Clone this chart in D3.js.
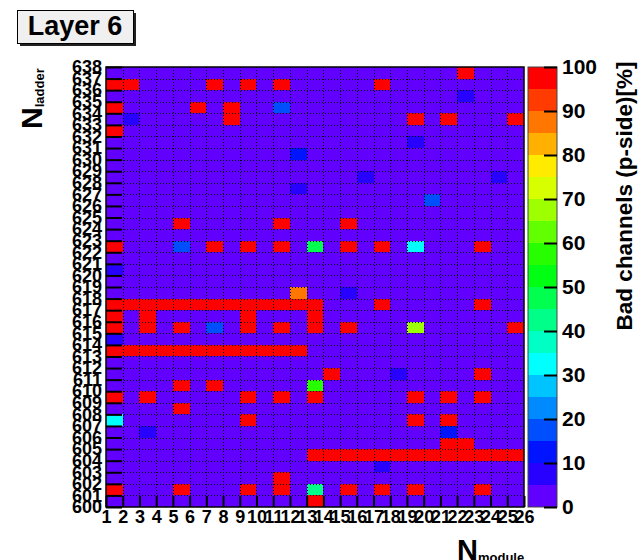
<!DOCTYPE html>
<html>
<head>
<meta charset="utf-8">
<script src="https://cdn.jsdelivr.net/npm/d3@7"></script>
<style>
body { margin: 0; background: #fff; }
svg text { font-family: "Liberation Sans", Arial, Helvetica, sans-serif; font-weight: bold; fill: #000; }
</style>
</head>
<body>
<svg id="chart" width="638" height="560"></svg>
<script>
// bin edges of the histogram (labels sit on the edges)
var moduleEdges = [1, 2, 3, 4, 5, 6, 7, 8, 9, 10, 11, 12, 13, 14, 15, 16, 17, 18, 19, 20,
                   21, 22, 23, 24, 25, 26];
var ladderEdges = [600, 601, 602, 603, 604, 605, 606, 607, 608, 609, 610, 611, 612, 613,
                   614, 615, 616, 617, 618, 619, 620, 621, 622, 623, 624, 625, 626, 627,
                   628, 629, 630, 631, 632, 633, 634, 635, 636, 637, 638];
var paletteTicks = [0, 10, 20, 30, 40, 50, 60, 70, 80, 90, 100];

// [module, ladder, bad channels %] -- every other cell is 0
var badCells = [
    [22, 637, 100],
    [1, 636, 100], [2, 636, 100], [7, 636, 100], [9, 636, 100], [11, 636, 100], [17, 636, 100],
    [22, 635, 8],
    [1, 634, 100], [6, 634, 100], [8, 634, 100], [11, 634, 17],
    [2, 633, 9], [8, 633, 100], [19, 633, 100], [21, 633, 100], [25, 633, 100],
    [1, 632, 100],
    [19, 631, 8],
    [12, 630, 12],
    [16, 628, 8], [24, 628, 8],
    [12, 627, 8],
    [20, 626, 17],
    [5, 624, 100], [11, 624, 100], [15, 624, 100],
    [1, 622, 100], [5, 622, 17], [7, 622, 100], [9, 622, 100], [11, 622, 100], [13, 622, 47],
    [15, 622, 100], [17, 622, 100], [19, 622, 32], [23, 622, 100],
    [1, 620, 8],
    [12, 618, 87], [15, 618, 8],
    [1, 617, 100], [2, 617, 100], [3, 617, 100], [4, 617, 100], [5, 617, 100], [6, 617, 100],
    [7, 617, 100], [8, 617, 100], [9, 617, 100], [10, 617, 100], [11, 617, 100], [12, 617, 100],
    [13, 617, 100], [17, 617, 100], [23, 617, 100],
    [1, 616, 100], [3, 616, 100], [9, 616, 100], [13, 616, 100],
    [1, 615, 100], [3, 615, 100], [5, 615, 100], [7, 615, 17], [9, 615, 100], [11, 615, 100],
    [13, 615, 100], [15, 615, 100], [19, 615, 67], [25, 615, 100],
    [1, 614, 8],
    [1, 613, 100], [2, 613, 100], [3, 613, 100], [4, 613, 100], [5, 613, 100], [6, 613, 100],
    [7, 613, 100], [8, 613, 100], [9, 613, 100], [10, 613, 100], [11, 613, 100], [12, 613, 100],
    [14, 611, 100], [18, 611, 8], [23, 611, 100],
    [5, 610, 100], [7, 610, 100], [13, 610, 57],
    [1, 609, 100], [3, 609, 100], [9, 609, 100], [11, 609, 100], [13, 609, 100], [19, 609, 100],
    [21, 609, 100], [23, 609, 100],
    [5, 608, 100],
    [1, 607, 32], [9, 607, 100], [19, 607, 100], [21, 607, 100],
    [3, 606, 8], [21, 606, 12],
    [21, 605, 100], [22, 605, 100],
    [13, 604, 100], [14, 604, 100], [15, 604, 100], [16, 604, 100], [17, 604, 100], [18, 604, 100],
    [19, 604, 100], [20, 604, 100], [21, 604, 100], [22, 604, 100], [23, 604, 100], [24, 604, 100],
    [25, 604, 100],
    [17, 603, 8],
    [11, 602, 100],
    [1, 601, 100], [5, 601, 100], [9, 601, 100], [11, 601, 100], [13, 601, 42], [15, 601, 100],
    [17, 601, 100], [19, 601, 100], [23, 601, 100],
    [13, 600, 100]
];

var svg = d3.select("#chart"),
    plotLeft = 106, plotRight = 524, plotTop = 67, plotBottom = 507,
    barLeft = 528, barRight = 557;

var x = d3.scaleLinear().domain([1, 26]).range([plotLeft, plotRight]),
    y = d3.scaleLinear().domain([600, 638]).range([plotBottom, plotTop]),
    z = d3.scaleLinear().domain([0, 100]).range([plotBottom, plotTop]);

// ROOT-like rainbow, 20 contour levels from violet to red
var color = d3.scaleQuantize()
    .domain([0, 100])
    .range(d3.range(20).map(function(i) { return d3.hsl(263 - i * 263 / 19, 1, 0.5).toString(); }));

var lookup = {};
badCells.forEach(function(c) { lookup[c[0] + "_" + c[1]] = c[2]; });

var cells = [];
moduleEdges.slice(0, -1).forEach(function(m) {
    ladderEdges.slice(0, -1).forEach(function(l) {
        cells.push({ module: m, ladder: l, value: lookup[m + "_" + l] || 0 });
    });
});

svg.append("g")
   .attr("class", "cells")
   .selectAll("rect")
   .data(cells)
   .enter().append("rect")
           .attr("x", function(d) { return x(d.module); })
           .attr("y", function(d) { return y(d.ladder + 1); })
           .attr("width", function(d) { return x(d.module + 1) - x(d.module); })
           .attr("height", function(d) { return y(d.ladder) - y(d.ladder + 1); })
           .attr("fill", function(d) { return color(d.value); })
           .attr("shape-rendering", "crispEdges");

// dotted grid on every bin edge
var grid = svg.append("g")
              .attr("stroke", "#000")
              .attr("stroke-width", 1)
              .attr("stroke-dasharray", "1,2");
grid.selectAll("line.gx")
    .data(moduleEdges.slice(1, -1))
    .enter().append("line")
            .attr("x1", function(d) { return Math.round(x(d)) + 0.5; })
            .attr("x2", function(d) { return Math.round(x(d)) + 0.5; })
            .attr("y1", plotTop).attr("y2", plotBottom);
grid.selectAll("line.gy")
    .data(ladderEdges.slice(1, -1))
    .enter().append("line")
            .attr("y1", function(d) { return Math.round(y(d)) + 0.5; })
            .attr("y2", function(d) { return Math.round(y(d)) + 0.5; })
            .attr("x1", plotLeft).attr("x2", plotRight);

// axes, ticks pointing into the frame
var xAxis = svg.append("g")
               .attr("transform", "translate(0," + plotBottom + ")")
               .call(d3.axisBottom(x).tickValues(moduleEdges).tickSizeInner(-11).tickSizeOuter(0).tickPadding(3));
var yAxis = svg.append("g")
               .attr("transform", "translate(" + plotLeft + ",0)")
               .call(d3.axisLeft(y).tickValues(ladderEdges).tickSizeInner(-16).tickSizeOuter(0).tickPadding(4));

[xAxis, yAxis].forEach(function(g) {
    g.attr("font-family", null).attr("font-size", null);
    g.selectAll("line").attr("stroke", "#000").attr("stroke-width", 2);
    g.selectAll("text").style("font-size", "18px");
    g.select(".domain").remove();
});

svg.append("rect")
   .attr("x", plotLeft).attr("y", plotTop)
   .attr("width", plotRight - plotLeft).attr("height", plotBottom - plotTop)
   .attr("fill", "none").attr("stroke", "#000").attr("stroke-width", 1.5);

// palette
var levels = [0].concat(color.thresholds(), [100]);
svg.append("g")
   .selectAll("rect")
   .data(d3.pairs(levels))
   .enter().append("rect")
           .attr("x", barLeft)
           .attr("width", barRight - barLeft)
           .attr("y", function(d) { return z(d[1]); })
           .attr("height", function(d) { return z(d[0]) - z(d[1]); })
           .attr("fill", function(d) { return color(d[0]); })
           .attr("shape-rendering", "crispEdges");
svg.append("rect")
   .attr("x", barLeft).attr("y", plotTop)
   .attr("width", barRight - barLeft).attr("height", plotBottom - plotTop)
   .attr("fill", "none").attr("stroke", "#444").attr("stroke-width", 1);

var zAxis = svg.append("g")
               .attr("transform", "translate(" + barRight + ",0)")
               .call(d3.axisRight(z).tickValues(paletteTicks).tickSizeInner(-13).tickSizeOuter(0).tickPadding(5));
zAxis.attr("font-family", null).attr("font-size", null);
zAxis.selectAll("line").attr("stroke", "#000").attr("stroke-width", 2);
zAxis.selectAll("text").style("font-size", "21px");
zAxis.select(".domain").remove();

// titles
var yTitle = svg.append("text")
                .attr("transform", "translate(42,129) rotate(-90)");
yTitle.append("tspan").style("font-size", "30px").text("N");
yTitle.append("tspan").style("font-size", "13px").attr("dy", 2).text("ladder");

var xTitle = svg.append("text")
                .attr("x", 457).attr("y", 560);
xTitle.append("tspan").style("font-size", "29px").text("N");
xTitle.append("tspan").style("font-size", "13px").attr("dy", 2).text("module");

svg.append("text")
   .attr("transform", "translate(632,196) rotate(-90)")
   .attr("text-anchor", "middle")
   .style("font-size", "22.5px")
   .text("Bad channels (p-side)[%]");

// "Layer 6" label box with shadow
svg.append("rect").attr("x", 20).attr("y", 13).attr("width", 116).attr("height", 33).attr("fill", "#222");
svg.append("rect").attr("x", 17.5).attr("y", 10.5).attr("width", 116).attr("height", 33)
   .attr("fill", "#f0f0f0").attr("stroke", "#000").attr("stroke-width", 1);
svg.append("text")
   .attr("x", 75).attr("y", 35)
   .attr("text-anchor", "middle")
   .style("font-size", "27px")
   .text("Layer 6");
</script>
</body>
</html>
